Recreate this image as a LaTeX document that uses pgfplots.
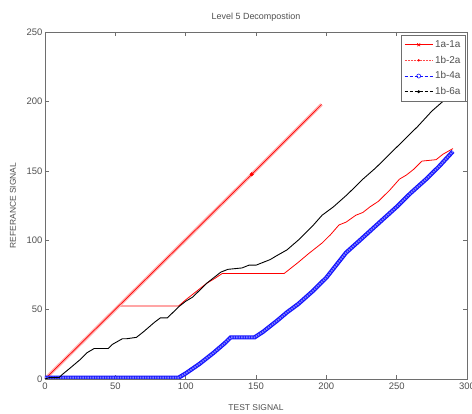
\documentclass[border=0pt]{standalone}
\usepackage{fontspec}
\setmainfont{Liberation Sans}
\usepackage{pgfplots}
\pgfplotsset{compat=1.18}

\definecolor{axgray}{RGB}{110,110,110}
\definecolor{txtgray}{RGB}{80,80,80}
\definecolor{mblue}{RGB}{20,20,255}

\begin{document}
\begin{tikzpicture}
\begin{axis}[
    name=ax,
    scale only axis,
    width=422bp, height=347bp,
    xmin=0, xmax=300, ymin=0, ymax=250,
    xtick={0,50,...,300}, ytick={0,50,...,250},
    tick align=inside,
    axis line style={axgray},
    every tick/.style={axgray},
    major tick length=4bp,
    tick label style={font=\fontsize{9.5}{11}\selectfont, text=txtgray},
    /pgf/number format/assume math mode=true,
    yticklabel style={xshift=1bp},
    title={Level 5 Decompostion},
    title style={font=\fontsize{9}{10}\selectfont, text=txtgray, yshift=1bp},
    xlabel={TEST SIGNAL},
    ylabel={REFERANCE SIGNAL},
    label style={font=\fontsize{8.5}{10}\selectfont, text=txtgray},
    xlabel style={yshift=-9bp},
    ylabel style={yshift=4bp},
    legend style={at={(0.997,0.99)}, anchor=north east, draw=axgray,
        font=\fontsize{10}{11}\selectfont, text=txtgray,
        row sep=3bp, inner sep=3bp},
    legend cell align=left,
    legend image code/.code={
        \draw[mark repeat=2, mark phase=2]
            plot coordinates {(0bp,0bp) (14bp,0bp) (28bp,0bp)};},
]
% legend images
\addlegendimage{color=red, draw=red, line width=0.7pt, mark=x, mark size=2bp,
    mark options={red}}
\addlegendentry{1a-1a}
\addlegendimage{red!70, line width=0.5pt, densely dotted, mark=*, mark size=0.9bp,
    mark options={solid, red}}
\addlegendentry{1b-2a}
\addlegendimage{mblue, line width=0.6pt, dash pattern=on 3bp off 2bp, mark=o,
    mark size=2bp, mark options={solid}}
\addlegendentry{1b-4a}
\addlegendimage{black, line width=0.6pt, dash pattern=on 3bp off 2bp, mark=*,
    mark size=1.1bp, mark options={solid}}
\addlegendentry{1b-6a}
% 1a-1a
\addplot[red, line width=0.8pt, no marks, forget plot]
coordinates {
(0,0) (52.6,52.6) (95,52.6) (100,57) (105,61) (110,65) (115,69) (120,72)
(126,76) (170,76) (175,80) (180,84) (187,90) (192,94) (197,98) (203,104)
(209,111) (214,113) (221,118) (226,120) (231,124) (237,128) (245,136)
(252,144) (257,147) (262,151) (268,157) (278,158) (283,162) (290,166)
};
% 1b-2a
\addplot[red, line width=0.7pt, mark=*, mark size=1.6pt, mark indices={2},
    preaction={draw, red!30, line width=3.4pt}, forget plot]
coordinates {(0,0) (147,147.5) (196.6,197.8)};
% 1b-4a
\addplot[white!45!mblue, line width=1.8bp, dash pattern=on 1.5bp off 1bp, no marks,
    preaction={draw, mblue, line width=4.2bp, solid}, forget plot]
coordinates {
(0,1) (95,1) (100,4) (110,11) (120,19) (128,26) (132,30) (149,30) (155,34)
(165,42) (172,48) (180,54) (190,63) (200,73) (214,91) (225,101) (238,113)
(250,124) (260,134) (271,144) (280,153) (290,164)
};
% 1b-6a
\addplot[black, line width=0.9pt, no marks, forget plot]
coordinates {
(0,0) (3,1) (10,1) (12,3) (18,8) (25,14) (30,19) (35,22) (45,22) (48,25)
(55,29) (58,29) (65,30) (70,34) (78,41) (82,44) (87,44) (95,52) (100,56)
(105,59) (110,64) (115,69) (120,73) (125,77) (130,79) (140,80) (145,82)
(150,82) (155,84) (160,86) (165,89) (172,93) (180,100) (190,110) (197,118)
(205,124) (215,133) (226,144) (235,152) (245,162) (255,172) (265,182)
(275,193) (284,201) (291,208)
};
\end{axis}
\pgfresetboundingbox
\path (ax.south west) ++(-45bp,-35bp) coordinate (bl);
\path (ax.north east) ++(5bp,32bp) coordinate (tr);
\useasboundingbox (bl) rectangle (tr);
\end{tikzpicture}
\end{document}
